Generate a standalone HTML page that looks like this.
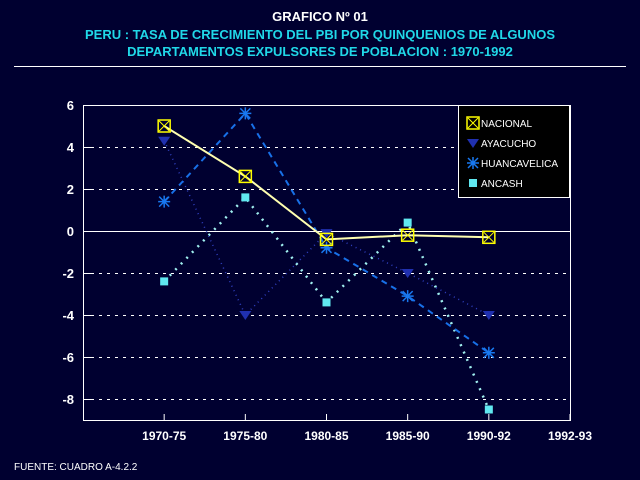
<!DOCTYPE html>
<html><head><meta charset="utf-8"><style>
body{margin:0;background:#000030;}
svg{display:block;font-family:"Liberation Sans",sans-serif;font-weight:bold;}
</style></head><body>
<svg width="640" height="480" viewBox="0 0 640 480">
<rect x="0" y="0" width="640" height="480" fill="#000030"/>
<text x="320" y="21" fill="#ffffff" font-size="13" text-anchor="middle">GRAFICO Nº 01</text>
<text x="320" y="39" fill="#20d8e8" font-size="13" text-anchor="middle">PERU : TASA DE CRECIMIENTO DEL PBI POR QUINQUENIOS DE ALGUNOS</text>
<text x="320" y="56" fill="#20d8e8" font-size="13" text-anchor="middle">DEPARTAMENTOS EXPULSORES DE POBLACION : 1970-1992</text>
<line x1="14" y1="66.5" x2="626" y2="66.5" stroke="#fff" stroke-width="1"/>
<g id="plot"></g>
<text x="14" y="470" fill="#fff" font-size="10" font-weight="normal">FUENTE: CUADRO A-4.2.2</text>
</svg>
<script>
const categories=["1970-75","1975-80","1980-85","1985-90","1990-92","1992-93"];
const yTicks=[6,4,2,0,-2,-4,-6,-8];
const nacional=[5.0,2.6,-0.4,-0.2,-0.3];
const ayacucho=[4.3,-4.0,-0.1,-2.0,-4.0];
const huancavelica=[1.4,5.6,-0.8,-3.1,-5.8];
const ancash=[-2.4,1.6,-3.4,0.4,-8.5];
const seriesNames=["NACIONAL","AYACUCHO","HUANCAVELICA","ANCASH"];

const NS="http://www.w3.org/2000/svg";
const g=document.getElementById('plot');
const L=83,R=570,T=105,B=420,ymin=-9,ymax=6;
function xs(i){return L+(R-L)/categories.length*(i+1);}
function ys(v){return B-(v-ymin)/(ymax-ymin)*(B-T);}
function mk(tag,attrs,name){const e=document.createElementNS(NS,tag);for(const k in attrs)e.setAttribute(k,attrs[k]);


g.appendChild(e);return e;}
yTicks.forEach(v=>{
 const y=ys(v)+0.5;
 if(v!==0&&v!==6) mk('line',{x1:L+8,y1:y,x2:R-4,y2:y,stroke:'#fff','stroke-dasharray':'3,5'},'grid-line');
 mk('line',{x1:L,y1:y,x2:L+8,y2:y,stroke:'#fff'},'y-tick');
 const t=mk('text',{x:L-9,y:ys(v)+5,fill:'#fff','font-size':'13','text-anchor':'end'},'y-tick-label');t.textContent=v<0?'-'+(-v):String(v);
});
mk('line',{x1:L,y1:ys(0)+0.5,x2:R,y2:ys(0)+0.5,stroke:'#fff'},'zero-line');
mk('rect',{x:L+0.5,y:T+0.5,width:R-L,height:B-T,fill:'none',stroke:'#fff'},'plot-frame');
categories.forEach((c,i)=>{
 const x=xs(i);
 mk('line',{x1:x,y1:B-6,x2:x,y2:B,stroke:'#fff'},'x-tick');
 const t=mk('text',{x:x,y:B+20,fill:'#fff','font-size':'12','text-anchor':'middle'},'x-tick-label');t.textContent=c;
});
function line(data,stroke,dash,w,name){
 mk('polyline',{points:data.map((v,i)=>xs(i)+','+ys(v)).join(' '),fill:'none',stroke:stroke,'stroke-width':w,'stroke-dasharray':dash},name);
}
line(ayacucho,'#3040c0','1,4',1.5,'ayacucho-line');
line(ancash,'#a0f0f0','2,6',2.5,'ancash-line');
line(huancavelica,'#1870e8','6,5',2,'huancavelica-line');
line(nacional,'#ffffb0','',2,'nacional-line');
function boxX(x,y,name){mk('rect',{x:x-6,y:y-6,width:12,height:12,fill:'none',stroke:'#ffff00','stroke-width':1.5},name);
 mk('path',{d:`M${x-5},${y-5}L${x+5},${y+5}M${x+5},${y-5}L${x-5},${y+5}`,stroke:'#ffff00','stroke-width':1},name+'-cross');}
function tri(x,y,name){mk('path',{d:`M${x-6},${y-4}L${x+6},${y-4}L${x},${y+5}Z`,fill:'#2030b0'},name);}
function star(x,y,name){mk('path',{d:`M${x-6},${y}L${x+6},${y}M${x},${y-6}L${x},${y+6}M${x-5},${y-5}L${x+5},${y+5}M${x+5},${y-5}L${x-5},${y+5}`,stroke:'#1878f0','stroke-width':1.5},name);}
function sq(x,y,name){mk('rect',{x:x-4,y:y-4,width:8,height:8,fill:'#60e8f0'},name);}
ayacucho.forEach((v,i)=>tri(xs(i),ys(v),'ayacucho-point'));
huancavelica.forEach((v,i)=>star(xs(i),ys(v),'huancavelica-point'));
ancash.forEach((v,i)=>sq(xs(i),ys(v),'ancash-point'));
nacional.forEach((v,i)=>boxX(xs(i),ys(v),'nacional-point'));
mk('rect',{x:458.5,y:105.5,width:111,height:92,fill:'#000',stroke:'#fff'},'legend-box');
const markers=[boxX,tri,star,sq];
seriesNames.forEach((n,i)=>{
 const y=123+i*20;
 markers[i](473,y,'legend-marker');
 const t=mk('text',{x:481,y:y+4,fill:'#fff','font-size':'10','font-weight':'normal'},'legend-entry');t.textContent=n;
});
</script>
</body></html>
